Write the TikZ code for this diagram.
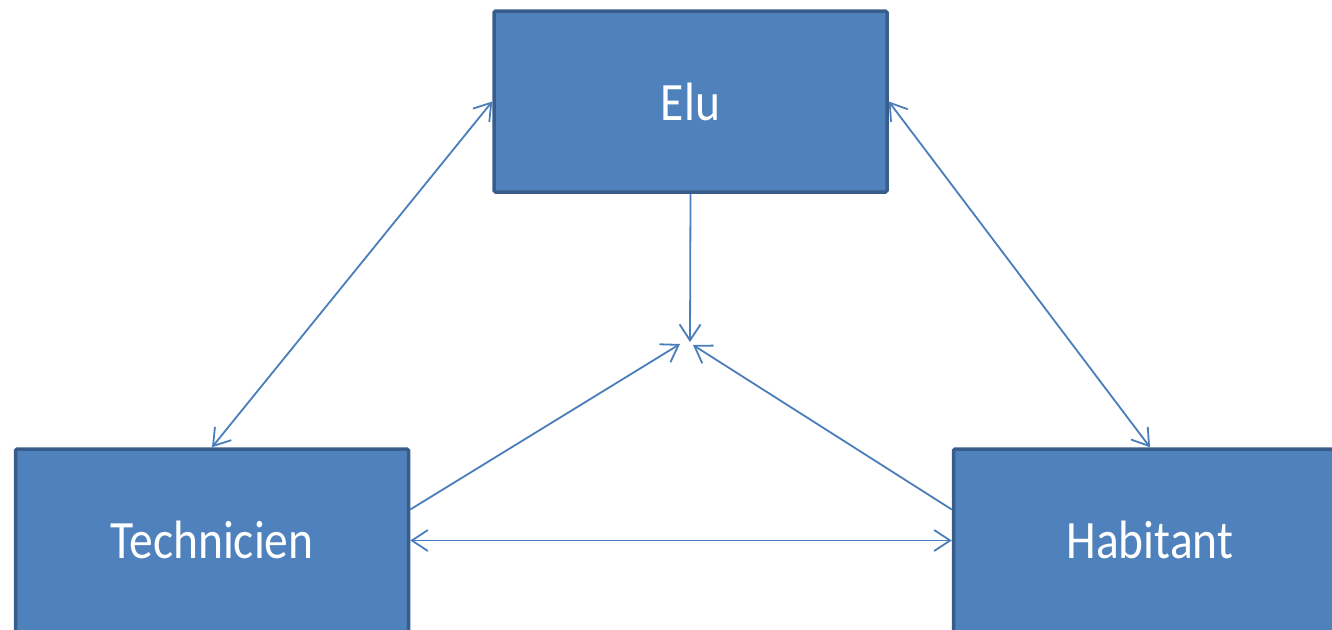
\documentclass[tikz,border=0pt]{standalone}
\usepackage{fontspec}
\setmainfont{Carlito}[FakeStretch=0.88]
\usetikzlibrary{arrows.meta}
\definecolor{boxfill}{HTML}{4F81BD}
\definecolor{boxline}{HTML}{385D8A}
\definecolor{conn}{HTML}{4A7EBB}
\tikzset{
  actor/.style={draw=boxline, fill=boxfill, line width=3.5pt, rounded corners=1.5pt,
    minimum width=393pt, minimum height=181pt, inner sep=0pt, text=white,
    font=\fontsize{54}{60}\selectfont},
  lowactor/.style={actor, minimum height=201pt},
  link/.style={draw=conn, line width=1.8pt},
  tip/.tip={Straight Barb[length=16pt,width=21pt,line width=1.8pt]}
}
\begin{document}
\begin{tikzpicture}[x=1pt,y=-1pt]
\useasboundingbox (0,0) rectangle (1332,629);
\node[actor] (elu) at (690.5,101.5) {Elu};
\node[lowactor] (tech) at (212,549.5) {\raisebox{20pt}{Technicien}};
\node[lowactor] (hab) at (1150,549.5) {\raisebox{20pt}{Habitant}};
\coordinate (c0) at (690,342);
\coordinate (c1) at (680,344);
\coordinate (c2) at (693,345);
\draw[link, tip-tip] (elu.west) -- (tech.north);
\draw[link, tip-tip] (elu.east) -- (hab.north);
\draw[link, -tip] (elu.south) -- (c0);
\draw[link, -tip] ([yshift=40pt]tech.east) -- (c1);
\draw[link, -tip] ([yshift=40pt]hab.west) -- (c2);
\draw[link, tip-tip] ([yshift=9pt]tech.east) -- ([yshift=9pt]hab.west);
\end{tikzpicture}
\end{document}
